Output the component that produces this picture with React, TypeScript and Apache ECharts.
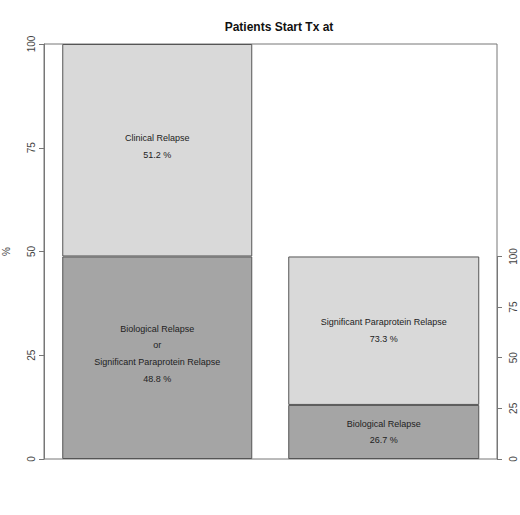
import React, { useEffect, useRef } from "react";
import * as echarts from "echarts";

const categories = ["All patients", "Subgroup"];
const leftTicks = [0, 25, 50, 75, 100];

// left bar (share of all patients)
const leftBottomValue = 48.8;
const leftTopValue = 51.2;
// right bar (split of the 48.8 % group)
const rightBottomValue = 26.7;
const rightTopValue = 73.3;

const leftBottomLabel = ["Biological Relapse", "or", "Significant Paraprotein Relapse"];
const leftTopLabel = ["Clinical Relapse"];
const rightBottomLabel = ["Biological Relapse"];
const rightTopLabel = ["Significant Paraprotein Relapse"];

const LIGHT = "#d9d9d9";
const DARK = "#a5a5a5";
const EDGE = "#555555";
const FONT = "Liberation Sans, Arial, sans-serif";

const makeLabel = (lines: string[], dy = 0) => ({
	show: true,
	position: "inside" as const,
	offset: [0, dy],
	color: "#222",
	fontSize: 9,
	fontFamily: FONT,
	lineHeight: 16.7,
	formatter: (p: any) => [...lines, p.value + " %"].join("\n"),
});

const App: React.FC = () => {
	const chartRef = useRef<HTMLDivElement>(null);

	useEffect(() => {
		document.body.style.margin = "0";
		if (!chartRef.current) return;
		const chart = echarts.init(chartRef.current, null, { renderer: "svg" });

		const axisLabelStyle = {
			color: "#444",
			fontSize: 10,
			fontFamily: FONT,
			rotate: 90,
		};

		const plotHeight = 415;
		const subTop = 459 - (leftBottomValue / 100) * plotHeight;

		chart.setOption({
			animation: false,
			backgroundColor: "#fff",
			title: {
				text: "Patients Start Tx at",
				left: 274,
				textAlign: "center",
				top: 16,
				textStyle: { fontSize: 12, fontWeight: "bold", fontFamily: FONT, color: "#111" },
			},
			grid: [
				{ left: 44, right: 23, top: 44, bottom: 56, show: true, borderColor: "#777", borderWidth: 1, containLabel: false, outerBoundsMode: "none" },
				{ left: 44, right: 23, top: subTop, bottom: 56, show: false, containLabel: false, outerBoundsMode: "none" },
			],
			xAxis: [
				{ type: "category", gridIndex: 0, data: categories, axisLine: { show: false }, axisTick: { show: false }, axisLabel: { show: false } },
				{ type: "category", gridIndex: 1, data: categories, axisLine: { show: false }, axisTick: { show: false }, axisLabel: { show: false } },
			],
			yAxis: [
				{
					type: "value",
					gridIndex: 0,
					min: leftTicks[0],
					max: leftTicks[leftTicks.length - 1],
					interval: 25,
					name: "%",
					nameLocation: "middle",
					nameGap: 33,
					nameRotate: 90,
					nameTextStyle: { fontSize: 10, fontFamily: FONT, color: "#444" },
					axisLine: { show: true, lineStyle: { color: "#777" } },
					axisTick: { show: true, length: 5, lineStyle: { color: "#777" } },
					axisLabel: { ...axisLabelStyle, margin: 8 },
					splitLine: { show: false },
				},
				{
					type: "value",
					gridIndex: 1,
					position: "right",
					min: leftTicks[0],
					max: leftTicks[leftTicks.length - 1],
					interval: 25,
					axisLine: { show: true, lineStyle: { color: "#777" } },
					axisTick: { show: true, length: 5, lineStyle: { color: "#777" } },
					axisLabel: { ...axisLabelStyle, margin: 11 },
					splitLine: { show: false },
				},
			],
			series: [
				{
					type: "bar",
					xAxisIndex: 0,
					yAxisIndex: 0,
					stack: "left",
					barWidth: 190,
					data: [leftBottomValue, "-"],
					itemStyle: { color: DARK, borderColor: EDGE, borderWidth: 1 },
					label: makeLabel(leftBottomLabel, -4),
				},
				{
					type: "bar",
					xAxisIndex: 0,
					yAxisIndex: 0,
					stack: "left",
					barWidth: 190,
					data: [leftTopValue, "-"],
					itemStyle: { color: LIGHT, borderColor: EDGE, borderWidth: 1 },
					label: makeLabel(leftTopLabel, -4),
				},
				{
					type: "bar",
					xAxisIndex: 1,
					yAxisIndex: 1,
					stack: "right",
					barWidth: 191,
					data: ["-", rightBottomValue],
					itemStyle: { color: DARK, borderColor: EDGE, borderWidth: 1 },
					label: makeLabel(rightBottomLabel),
				},
				{
					type: "bar",
					xAxisIndex: 1,
					yAxisIndex: 1,
					stack: "right",
					barWidth: 191,
					data: ["-", rightTopValue],
					itemStyle: { color: LIGHT, borderColor: EDGE, borderWidth: 1 },
					label: makeLabel(rightTopLabel),
				},
			],
		});

		return () => {
			chart.dispose();
		};
	}, []);

	return <div ref={chartRef} style={{ width: "520px", height: "515px" }} />;
};

export default App;
